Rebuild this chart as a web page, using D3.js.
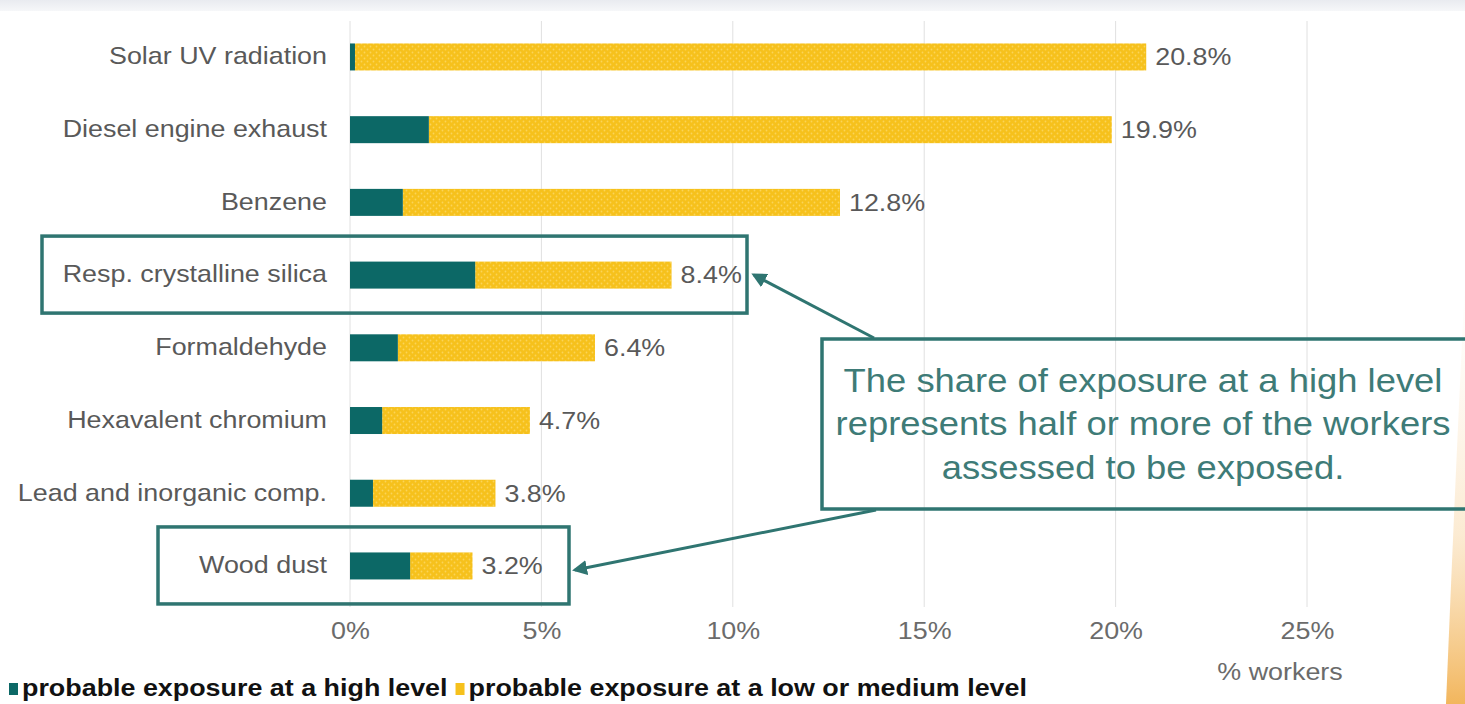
<!DOCTYPE html>
<html>
<head>
<meta charset="utf-8">
<script src="https://cdn.jsdelivr.net/npm/d3@7"></script>
<style>
  html, body { margin: 0; padding: 0; background: #ffffff; }
  svg { display: block; }
  text { font-family: "Liberation Sans", Arial, sans-serif; }
</style>
</head>
<body>
<svg id="chart" width="1465" height="704"></svg>
<script>
// ---- data ----
const categories = ["Solar UV radiation", "Diesel engine exhaust", "Benzene", "Resp. crystalline silica",
                    "Formaldehyde", "Hexavalent chromium", "Lead and inorganic comp.", "Wood dust"];
const highLevel = [0.13, 2.06, 1.38, 3.27, 1.25, 0.84, 0.60, 1.57];
const totals    = [20.8, 19.9, 12.8, 8.4, 6.4, 4.7, 3.8, 3.2];
const lowMedium = totals.map((t, i) => +(t - highLevel[i]).toFixed(2));
const valueLabels = ["20.8%", "19.9%", "12.8%", "8.4%", "6.4%", "4.7%", "3.8%", "3.2%"];
const tickValues = [0, 5, 10, 15, 20, 25];
const tickLabels = ["0%", "5%", "10%", "15%", "20%", "25%"];
const seriesNames = ["probable exposure at a high level", "probable exposure at a low or medium level"];
const axisTitle = "% workers";
const highlighted = ["Resp. crystalline silica", "Wood dust"];
const noteLines = ["The share of exposure at a high level", "represents half or more of the workers", "assessed to be exposed."];

// ---- styles ----
const TEAL = "#0c6866";
const YELLOW = "#f6c11c";
const NOTE = "#2f7571";
const SX = 1.12; // horizontal stretch of the original rendering

const svg = d3.select("#chart");
const defs = svg.append("defs");

// dotted yellow pattern
const pat = defs.append("pattern").attr("id", "dots").attr("patternUnits", "userSpaceOnUse")
  .attr("width", 6).attr("height", 6);
pat.append("rect").attr("width", 6).attr("height", 6).attr("fill", YELLOW);
pat.append("circle").attr("cx", 1.5).attr("cy", 1.5).attr("r", 0.9).attr("fill", "#fbd458");
pat.append("circle").attr("cx", 4.5).attr("cy", 4.5).attr("r", 0.9).attr("fill", "#fbd458");

// arrow marker
defs.append("marker").attr("id", "arrow").attr("viewBox", "0 0 10 10").attr("refX", 8).attr("refY", 5)
  .attr("markerWidth", 5).attr("markerHeight", 5).attr("orient", "auto-start-reverse")
  .append("path").attr("d", "M0,0 L10,5 L0,10 z").attr("fill", NOTE);

// background decoration
const topGrad = defs.append("linearGradient").attr("id", "topg").attr("x1", 0).attr("x2", 0).attr("y1", 0).attr("y2", 1);
topGrad.append("stop").attr("offset", "0%").attr("stop-color", "#e9ebf0");
topGrad.append("stop").attr("offset", "100%").attr("stop-color", "#f6f7f9");
svg.append("rect").attr("x", 0).attr("y", 0).attr("width", 1465).attr("height", 11).attr("fill", "url(#topg)");
const sideGrad = defs.append("linearGradient").attr("id", "sideg").attr("x1", 0).attr("x2", 0).attr("y1", 0).attr("y2", 1);
sideGrad.append("stop").attr("offset", "0%").attr("stop-color", "#fbe7cc").attr("stop-opacity", 0);
sideGrad.append("stop").attr("offset", "60%").attr("stop-color", "#f8d7a6").attr("stop-opacity", 0.5);
sideGrad.append("stop").attr("offset", "100%").attr("stop-color", "#f0a940").attr("stop-opacity", 0.85);
svg.append("path").attr("d", "M1465,280 C1458,420 1452,560 1446,704 L1465,704 Z").attr("fill", "url(#sideg)");

// ---- scales ----
const x = d3.scaleLinear().domain([0, 25]).range([350, 1307]);
const y = d3.scaleBand().domain(categories).range([20.6, 602.3]).padding(0);
const barH = 27;
const yc = c => y(c) + y.bandwidth() / 2;

// gridlines
svg.append("g").selectAll("line").data(tickValues).join("line")
  .attr("x1", d => x(d)).attr("x2", d => x(d)).attr("y1", 21).attr("y2", 607)
  .attr("stroke", "#e0e0e0").attr("stroke-width", 1);

// x axis labels via d3 axis
const xAxis = d3.axisBottom(x).tickValues(tickValues).tickFormat((d, i) => tickLabels[i]).tickSize(0).tickPadding(0);
const ax = svg.append("g").attr("transform", "translate(0,627)").call(xAxis);
ax.select(".domain").remove();
ax.selectAll(".tick text").attr("font-size", 24).attr("fill", "#6b6b6b")
  .attr("font-family", "Liberation Sans, Arial, sans-serif")
  .attr("dy", "0.5em").attr("x", 0).attr("transform", `scale(${SX},1)`);

function stretchedText(g, tx, ty, str, anchor) {
  return g.append("text").attr("transform", `translate(${tx},${ty}) scale(${SX},1)`)
    .attr("text-anchor", anchor).attr("dominant-baseline", "middle").text(str);
}

// axis title
stretchedText(svg, 1280, 674, axisTitle, "middle").attr("font-size", 24).attr("fill", "#6b6b6b");

// bars
const rows = categories.map((c, i) => ({ c, hi: highLevel[i], lo: lowMedium[i], tot: totals[i], lab: valueLabels[i] }));
svg.append("g").selectAll("rect").data(rows).join("rect")
  .attr("x", d => x(d.hi)).attr("width", d => x(d.hi + d.lo) - x(d.hi))
  .attr("y", d => yc(d.c) - barH / 2).attr("height", barH).attr("fill", "url(#dots)");
svg.append("g").selectAll("rect").data(rows).join("rect")
  .attr("x", x(0)).attr("width", d => x(d.hi) - x(0))
  .attr("y", d => yc(d.c) - barH / 2).attr("height", barH).attr("fill", TEAL);

// category labels
const catG = svg.append("g");
rows.forEach(d => stretchedText(catG, 327, yc(d.c) + 1, d.c, "end").attr("font-size", 24).attr("fill", "#595959"));

// value labels
const valG = svg.append("g");
rows.forEach(d => stretchedText(valG, x(d.tot) + 9, yc(d.c) + 2, d.lab, "start").attr("font-size", 24).attr("fill", "#595959"));

// highlight boxes
const boxes = [
  { c: highlighted[0], x0: 42, x1: 747 },
  { c: highlighted[1], x0: 158, x1: 569 }
];
svg.append("g").selectAll("rect").data(boxes).join("rect")
  .attr("x", d => d.x0).attr("width", d => d.x1 - d.x0)
  .attr("y", d => yc(d.c) - 39).attr("height", 77)
  .attr("fill", "none").attr("stroke", NOTE).attr("stroke-width", 3.5);

// callout box
svg.append("rect").attr("x", 822).attr("y", 339).attr("width", 660).attr("height", 170)
  .attr("fill", "none").attr("stroke", NOTE).attr("stroke-width", 3.5);
const noteG = svg.append("g");
noteLines.forEach((t, i) => stretchedText(noteG, 1143, 383 + i * 43.5, t, "middle")
  .attr("font-size", 32.5).attr("fill", "#3e7b77"));

// arrows
svg.append("line").attr("x1", 874).attr("y1", 338).attr("x2", 754).attr("y2", 275)
  .attr("stroke", NOTE).attr("stroke-width", 3).attr("marker-end", "url(#arrow)");
svg.append("line").attr("x1", 876).attr("y1", 510).attr("x2", 575).attr("y2", 570)
  .attr("stroke", NOTE).attr("stroke-width", 3).attr("marker-end", "url(#arrow)");

// legend
const lg = svg.append("g");
let lx = 9;
const legendColors = [TEAL, YELLOW];
seriesNames.forEach((s, i) => {
  lg.append("rect").attr("x", lx).attr("y", 683).attr("width", 9).attr("height", 12).attr("fill", legendColors[i]);
  const t = stretchedText(lg, lx + 13, 690, s, "start").attr("font-size", 24).attr("font-weight", "bold").attr("fill", "#111");
  lx += 13 + t.node().getComputedTextLength() * SX + 8;
});
</script>
</body>
</html>
